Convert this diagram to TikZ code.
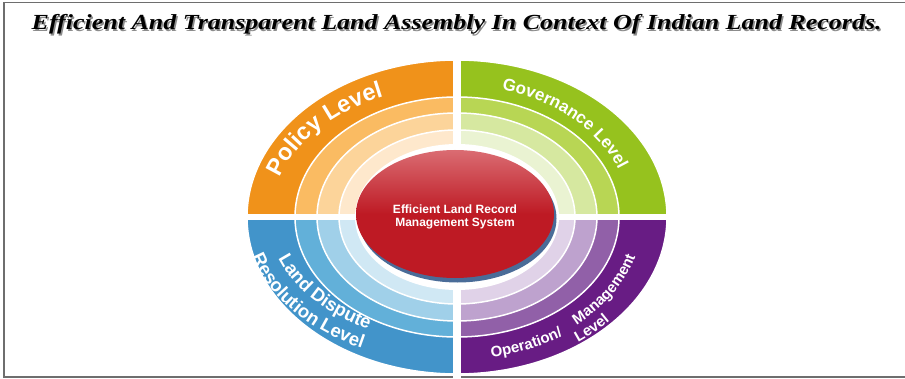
\documentclass[tikz,border=0pt]{standalone}
\usepackage{graphicx}
\usepackage{fontspec}
\setmainfont{Liberation Serif}
\setsansfont{Liberation Sans}
\usetikzlibrary{decorations.text}
\definecolor{or1}{RGB}{240,146,26}
\definecolor{or2}{RGB}{250,187,98}
\definecolor{or3}{RGB}{252,212,154}
\definecolor{or4}{RGB}{254,232,204}
\definecolor{gr1}{RGB}{150,194,30}
\definecolor{gr2}{RGB}{184,214,84}
\definecolor{gr3}{RGB}{214,232,160}
\definecolor{gr4}{RGB}{234,243,210}
\definecolor{bl1}{RGB}{66,148,202}
\definecolor{bl2}{RGB}{98,176,217}
\definecolor{bl3}{RGB}{160,208,233}
\definecolor{bl4}{RGB}{208,232,244}
\definecolor{pu1}{RGB}{104,28,132}
\definecolor{pu2}{RGB}{145,96,168}
\definecolor{pu3}{RGB}{190,162,206}
\definecolor{pu4}{RGB}{224,210,232}
\definecolor{redc}{RGB}{190,26,36}
\definecolor{redtop}{RGB}{218,108,114}
\definecolor{shad}{RGB}{74,108,152}
\definecolor{framec}{RGB}{110,110,110}
\newcommand\ringsector[4]{%
  \fill[#2, draw=white, line width=1.5pt] (0,0) -- (#1:#3pt and #4pt)
    arc[start angle=#1, delta angle=90, x radius=#3pt, y radius=#4pt] -- cycle;}
\newcommand\ringquad[5]{%
  \ringsector{#1}{#2}{210}{157}%
  \ringsector{#1}{#3}{162}{120}%
  \ringsector{#1}{#4}{140}{104}%
  \ringsector{#1}{#5}{118}{87}}
\newcommand\polfont{\sffamily\bfseries\fontsize{23.5pt}{23.5pt}\selectfont\color{white}}
\newcommand\govfont{\sffamily\bfseries\fontsize{17pt}{17pt}\selectfont\color{white}}
\newcommand\landfont{\sffamily\bfseries\fontsize{18.5pt}{18.5pt}\selectfont\color{white}}
\newcommand\opfont{\sffamily\bfseries\fontsize{15pt}{15pt}\selectfont\color{white}}
\newcommand\titletext{Efficient And Transparent Land Assembly In Context Of Indian Land Records.}
\tikzset{
  framestyle/.style={draw=framec, line width=1.3pt},
  titlestyle/.style={anchor=base, inner sep=0pt, font=\rmfamily\bfseries\itshape\fontsize{21.5pt}{21.5pt}\selectfont},
  centertext/.style={align=center, inner sep=0pt, text=white,
    font=\sffamily\bfseries\fontsize{12pt}{13.5pt}\selectfont},
}
\begin{document}
\begin{tikzpicture}[x=1pt, y=1pt]
\useasboundingbox (0,0) rectangle (905,378);
% frame
\draw[framestyle] (905,375.5) -- (4,375.5) -- (4,1) -- (905,1);
% title
\node[titlestyle, text=black!45] (titleshadow) at (458.2,346.8) {\resizebox{850pt}{\height}{\titletext}};
\node[titlestyle] (title) at (456.7,348) {\resizebox{850pt}{\height}{\titletext}};
% rings
\begin{scope}[shift={(457pt,161pt)}]
  \ringquad{90}{or1}{or2}{or3}{or4}
  \ringquad{0}{gr1}{gr2}{gr3}{gr4}
  \ringquad{180}{bl1}{bl2}{bl3}{bl4}
  \ringquad{270}{pu1}{pu2}{pu3}{pu4}
\end{scope}
% gaps
\fill[white] (453,0) rectangle (461,323);
\fill[white] (235,158) rectangle (680,164);
\fill[white] (457,161) ellipse[x radius=102pt, y radius=73pt];
% centre ellipse
\fill[shad] (457.5,159.5) ellipse[x radius=99pt, y radius=64pt];
\shade[top color=redtop, bottom color=redc, middle color=redc] (455,164) ellipse[x radius=99pt, y radius=64pt];
\node[centertext] (center) at (455,161) {Efficient Land Record\\Management System};
% arc texts
\path[shift={(457pt,161pt)}, decorate, decoration={text along path, text={|\polfont|Policy Level}}]
  (162.5:186pt and 131pt) arc[start angle=162.5, end angle=60, x radius=186pt, y radius=131pt];
\path[shift={(457pt,161pt)}, decorate, decoration={text along path, text={|\govfont|Governance Level}}]
  (75:173pt and 132pt) arc[start angle=75, end angle=-10, x radius=173pt, y radius=132pt];
\path[shift={(457pt,161pt)}, decorate, decoration={text along path, text={|\landfont|Land Dispute}}]
  (199:189pt and 127pt) arc[start angle=199, end angle=300, x radius=189pt, y radius=127pt];
\path[shift={(457pt,161pt)}, decorate, decoration={text along path, text={|\landfont|Resolution Level}}]
  (195.5:213pt and 147pt) arc[start angle=195.5, end angle=300, x radius=213pt, y radius=147pt];
\path[shift={(457pt,161pt)}, decorate, decoration={text along path, text={|\opfont|Operation/}}]
  (280.5:190pt and 143pt) arc[start angle=280.5, end angle=340, x radius=190pt, y radius=143pt];
\path[shift={(457pt,161pt)}, decorate, decoration={text along path, text={|\opfont|Management}}]
  (310:186pt and 141pt) arc[start angle=310, end angle=380, x radius=186pt, y radius=141pt];
\path[shift={(457pt,161pt)}, decorate, decoration={text along path, text={|\opfont|Level}}]
  (306:206pt and 155pt) arc[start angle=306, end angle=360, x radius=206pt, y radius=155pt];
\end{tikzpicture}
\end{document}
